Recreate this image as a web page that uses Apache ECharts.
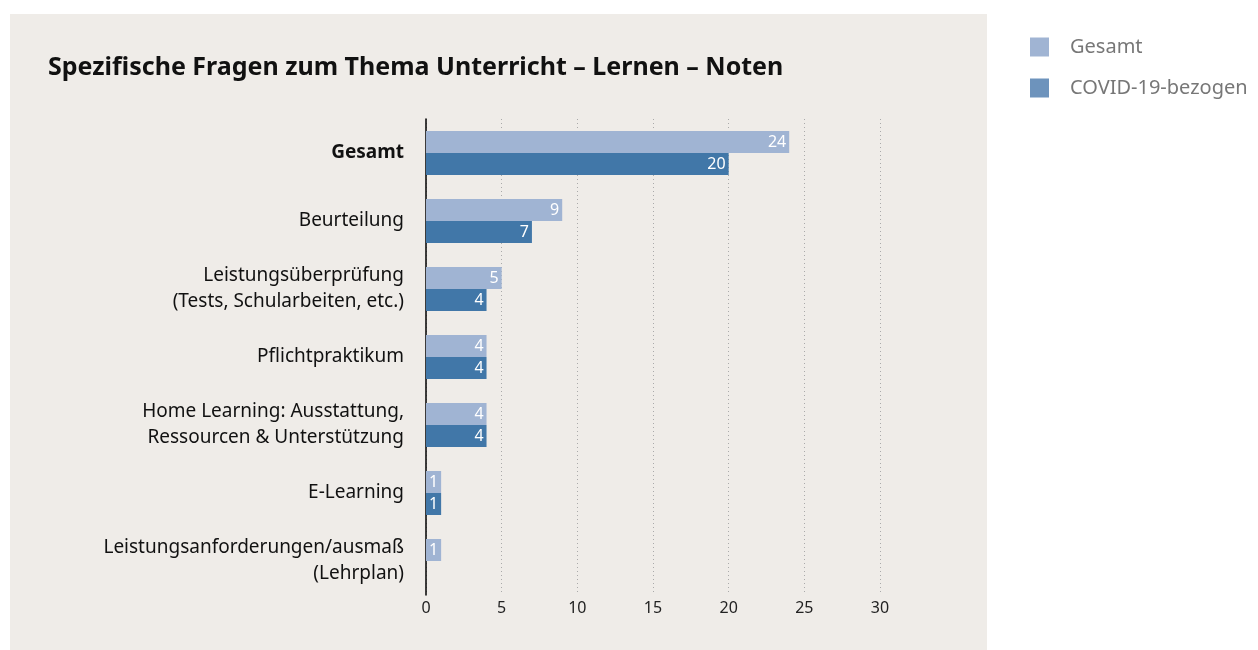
<!DOCTYPE html>
<html>
<head>
<meta charset="utf-8">
<script src="https://cdn.jsdelivr.net/npm/echarts@6/dist/echarts.min.js"></script>
<style>
  html, body { margin: 0; padding: 0; background: #fff; }
  #chart { width: 1258px; height: 650px; }
</style>
</head>
<body>
<div id="chart"></div>
<script>
const categories = [
  'Gesamt',
  'Beurteilung',
  'Leistungsüberprüfung\n(Tests, Schularbeiten, etc.)',
  'Pflichtpraktikum',
  'Home Learning: Ausstattung,\nRessourcen & Unterstützung',
  'E-Learning',
  'Leistungsanforderungen/ausmaß\n(Lehrplan)'
]
const gesamt = [24, 9, 5, 4, 4, 1, 1]
const covid = [20, 7, 4, 4, 4, 1, null]
const xTicks = { min: 0, max: 30, interval: 5 }

const chart = echarts.init(document.getElementById('chart'))
const font = '"Noto Sans", "Open Sans", sans-serif'

// value labels inside the bar end
const barLabel = {
  show: true,
  position: 'insideRight',
  distance: 3,
  color: '#fff',
  fontSize: 16,
  fontFamily: font
}

const option = {
  backgroundColor: '#fff',
  animation: false,
  graphic: [
    {
      type: 'rect',
      z: -10,
      shape: { x: 10, y: 14, width: 977, height: 636 },
      style: { fill: '#efece8' }
    }
  ],
  title: {
    text: 'Spezifische Fragen zum Thema Unterricht – Lernen – Noten',
    left: 43,
    top: 50,
    textStyle: {
      fontFamily: font,
      fontSize: 25,
      fontWeight: 'bold',
      color: '#111'
    }
  },
  legend: {
    orient: 'vertical',
    left: 1025,
    top: 32,
    itemWidth: 19,
    itemHeight: 19,
    itemGap: 21,
    icon: 'rect',
    textStyle: { fontFamily: font, fontSize: 20, color: '#777', padding: [0, 0, 0, 16] },
    data: [
      { name: 'Gesamt', itemStyle: { color: '#a0b4d3' } },
      { name: 'COVID-19-bezogen', itemStyle: { color: '#6d93bc' } }
    ]
  },
  grid: {
    left: 426,
    right: 378,
    top: 119,
    bottom: 55,
    containLabel: false
  },
  xAxis: {
    type: 'value',
    min: xTicks.min,
    max: xTicks.max,
    interval: xTicks.interval,
    axisLine: { show: false },
    axisTick: { show: false },
    axisLabel: { fontFamily: font, fontSize: 16, color: '#222', margin: 5 },
    splitLine: {
      show: true,
      lineStyle: { type: [1, 3], color: '#aaa', width: 1 }
    }
  },
  yAxis: {
    type: 'category',
    inverse: true,
    data: categories,
    axisLine: { show: true, lineStyle: { color: '#000', width: 1.5 } },
    axisTick: { show: false },
    axisLabel: {
      margin: 22,
      fontFamily: font,
      fontSize: 19,
      color: '#111',
      lineHeight: 26,
      formatter: (v) => v === 'Gesamt' ? '{b|' + v + '}' : v,
      rich: {
        b: { fontWeight: 'bold', fontFamily: font, fontSize: 19, color: '#111' }
      }
    }
  },
  series: [
    {
      name: 'Gesamt',
      type: 'bar',
      data: gesamt,
      barWidth: 22,
      barGap: '0%',
      itemStyle: { color: '#a0b4d3' },
      label: barLabel
    },
    {
      name: 'COVID-19-bezogen',
      type: 'bar',
      data: covid,
      barWidth: 22,
      itemStyle: { color: '#4177a8' },
      label: barLabel
    }
  ]
}

chart.setOption(option)
</script>
</body>
</html>
